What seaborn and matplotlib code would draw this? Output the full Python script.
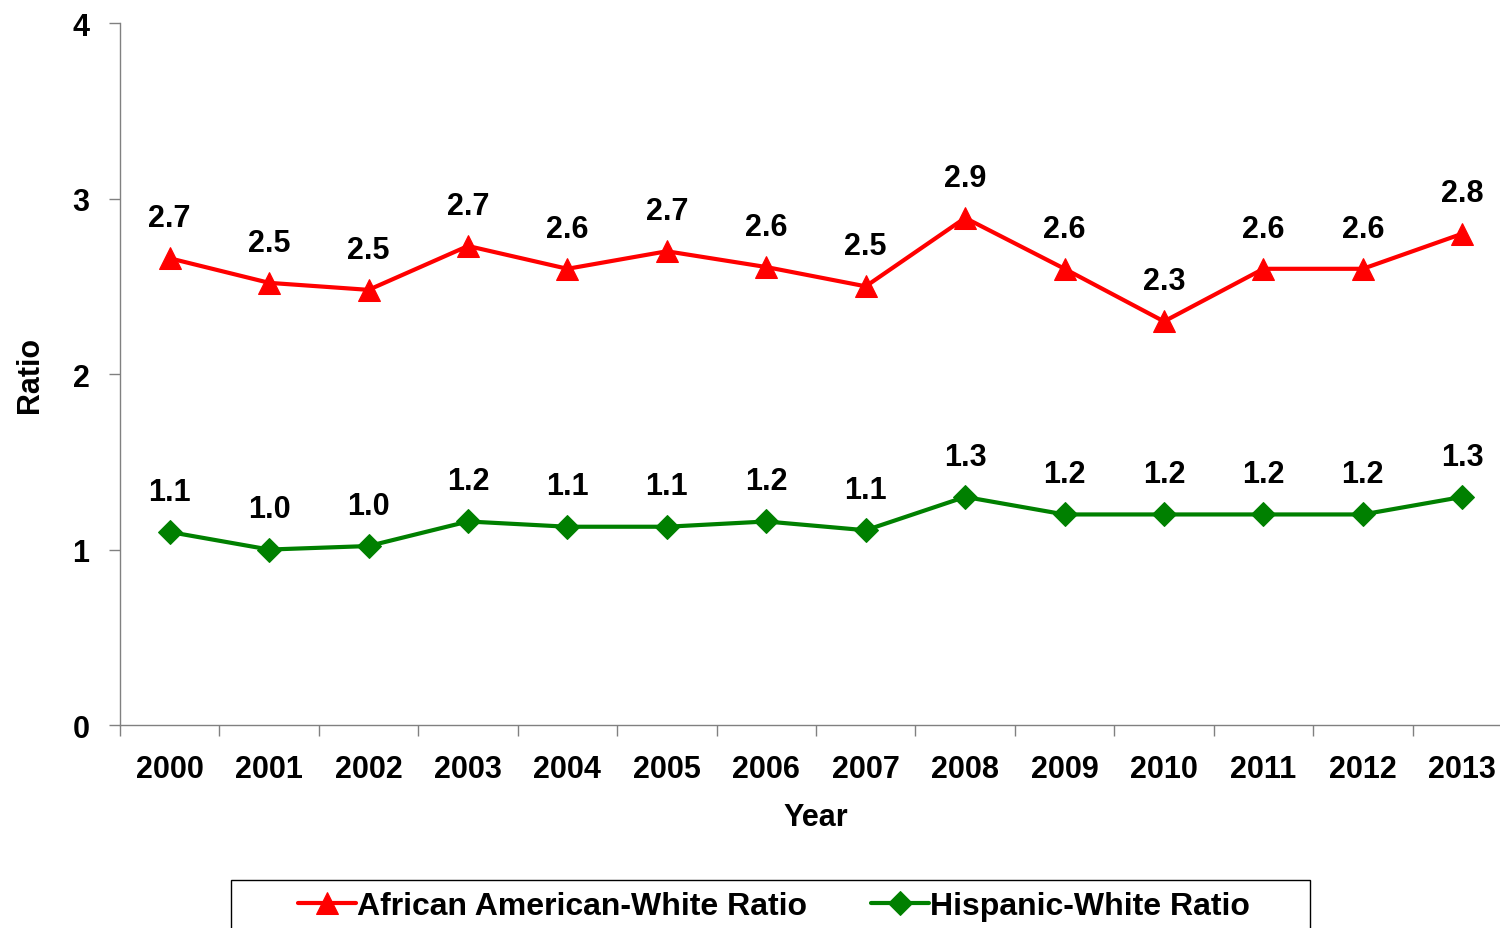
import matplotlib
matplotlib.use("Agg")
import matplotlib.pyplot as plt
from matplotlib.patches import Rectangle
import numpy as np
import pandas as pd
import seaborn as sns

years = ["2000", "2001", "2002", "2003", "2004", "2005", "2006",
         "2007", "2008", "2009", "2010", "2011", "2012", "2013"]
aa_ratio = [2.66, 2.52, 2.48, 2.73, 2.60, 2.70, 2.61, 2.50, 2.89, 2.60, 2.30, 2.60, 2.60, 2.80]
hisp_ratio = [1.10, 1.00, 1.02, 1.16, 1.13, 1.13, 1.16, 1.11, 1.30, 1.20, 1.20, 1.20, 1.20, 1.30]
aa_labels = ["2.7", "2.5", "2.5", "2.7", "2.6", "2.7", "2.6", "2.5", "2.9", "2.6", "2.3", "2.6", "2.6", "2.8"]
hisp_labels = ["1.1", "1.0", "1.0", "1.2", "1.1", "1.1", "1.2", "1.1", "1.3", "1.2", "1.2", "1.2", "1.2", "1.3"]
series_names = ["African American-White Ratio", "Hispanic-White Ratio"]

sns.set_style("white")
plt.rcParams["font.family"] = ["Liberation Sans", "DejaVu Sans"]
plt.rcParams["font.weight"] = "bold"
for key in ["text.color", "axes.labelcolor", "xtick.labelcolor", "ytick.labelcolor"]:
    plt.rcParams[key] = "black"

df = pd.DataFrame({
    "Year": years * 2,
    "Ratio": aa_ratio + hisp_ratio,
    "Series": [series_names[0]] * len(years) + [series_names[1]] * len(years),
})
df["pos"] = list(range(len(years))) * 2

fig = plt.figure(figsize=(15, 9.29), dpi=100)
# plot area runs slightly past the right edge of the figure, like the original
ax = fig.add_axes([0.08, 0.2185, 0.928, 0.7555])

colors = {series_names[0]: "#FF0000", series_names[1]: "#008000"}
marks = {series_names[0]: "^", series_names[1]: "D"}
sizes = {series_names[0]: 16, series_names[1]: 12.5}

for name in series_names:
    sub = df[df["Series"] == name]
    sns.lineplot(data=sub, x="pos", y="Ratio", ax=ax, color=colors[name],
                 marker=marks[name], markersize=sizes[name], markeredgecolor=colors[name],
                 linewidth=3, label=name, legend=False)

for i in range(len(years)):
    ax.annotate(aa_labels[i], (i, aa_ratio[i]), xytext=(0, 29), textcoords="offset points",
                ha="center", va="center", fontsize=22, fontweight="bold")
    ax.annotate(hisp_labels[i], (i, hisp_ratio[i]), xytext=(0, 29), textcoords="offset points",
                ha="center", va="center", fontsize=22, fontweight="bold")

ax.set_xlim(-0.5, len(years) - 0.5)
ax.set_ylim(0, 4)
ax.set_yticks([0, 1, 2, 3, 4])
ax.set_yticklabels(["0", "1", "2", "3", "4"], fontsize=22, fontweight="bold")
ax.set_xticks(range(len(years)))
ax.set_xticklabels(years, fontsize=22, fontweight="bold")
ax.set_xticks(np.arange(-0.5, len(years), 1), minor=True)
ax.tick_params(axis="x", which="major", length=0, pad=21, bottom=True)
ax.tick_params(axis="x", which="minor", length=8, width=1, color="#808080",
               direction="out", bottom=True)
ax.tick_params(axis="y", length=8, width=1, color="#808080", direction="out",
               pad=14, left=True)

ax.set_xlabel("Year", fontsize=22, fontweight="bold", labelpad=13)
ax.set_ylabel("Ratio", fontsize=22, fontweight="bold", labelpad=20)

for side in ["top", "right"]:
    ax.spines[side].set_visible(False)
for side in ["left", "bottom"]:
    ax.spines[side].set_color("#808080")
    ax.spines[side].set_linewidth(1)

# legend box, cut off by the bottom edge as in the original
fig.patches.append(Rectangle((231 / 1500, -0.02), (1310 - 231) / 1500, 0.0717,
                             transform=fig.transFigure, fill=False,
                             edgecolor="black", linewidth=1))

handles, labels = ax.get_legend_handles_labels()
leg = fig.legend(handles, labels, loc="center", bbox_to_anchor=(0.516, 0.0237),
                 ncol=2, frameon=False, fontsize=23, handlelength=1.8,
                 handletextpad=0.05, columnspacing=2.0, borderpad=0, borderaxespad=0)
for t in leg.get_texts():
    t.set_fontweight("bold")

fig.savefig("out.png", dpi=100)
